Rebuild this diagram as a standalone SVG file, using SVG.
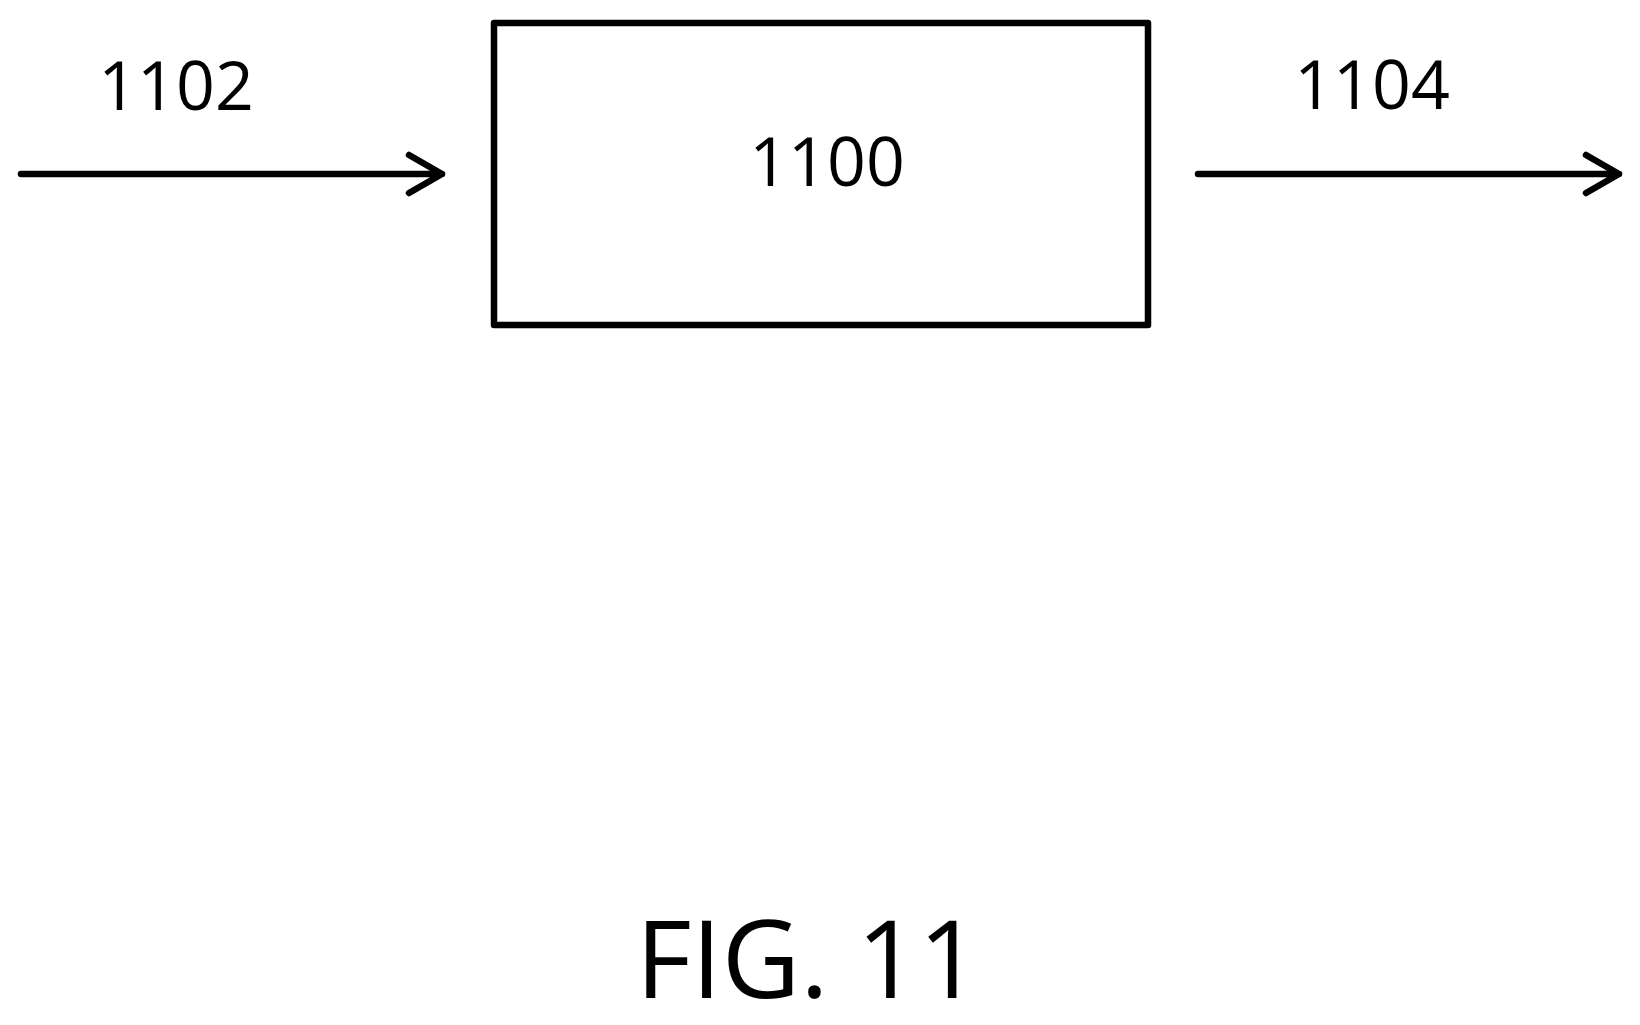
<svg xmlns="http://www.w3.org/2000/svg" width="1640" height="1025" viewBox="0 0 1640 1025">
<style>
text{font-family:"Open Sans","Liberation Sans",sans-serif;fill:#000}
.l{font-size:68px}
.s{stroke:#000;stroke-width:6.5;fill:none;stroke-linecap:round;stroke-linejoin:round}
</style>
<rect width="1640" height="1025" fill="#fff"/>
<g id="node1100">
<rect class="s" x="494" y="23" width="654" height="302"/>
<text class="l" x="827" y="186" text-anchor="middle">1100</text>
</g>
<g id="connectors">
<path class="s" d="M21 174H442M409 155L442 174L409 193"/>
<path class="s" d="M1198 174H1619M1586 155L1619 174L1586 193"/>
<text class="l" x="176" y="110" text-anchor="middle">1102</text>
<text class="l" x="1372" y="109" text-anchor="middle">1104</text>
</g>
<text x="808" y="998" text-anchor="middle" font-size="108">FIG. 11</text>
</svg>
